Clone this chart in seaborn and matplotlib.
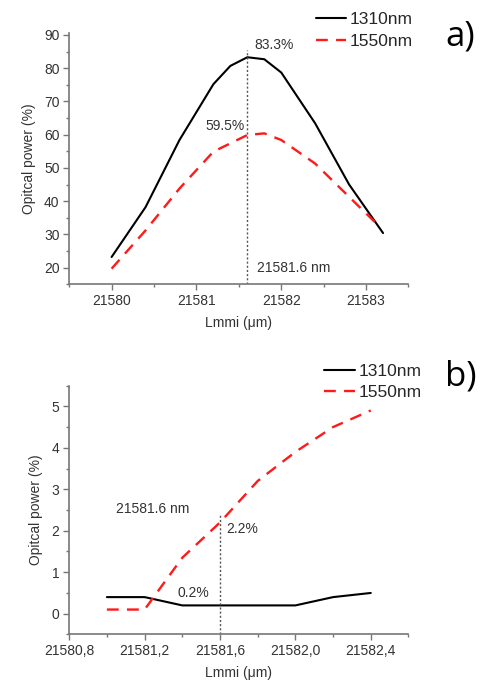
import matplotlib
matplotlib.use("Agg")
import matplotlib.pyplot as plt
import seaborn as sns
import pandas as pd
from matplotlib.ticker import FixedLocator, MultipleLocator, FuncFormatter

# ---- data: panel a ----
a_x_1310 = [21580.0, 21580.4, 21580.8, 21581.2, 21581.4, 21581.6, 21581.8, 21582.0, 21582.4, 21582.8, 21583.2]
a_y_1310 = [23.2, 38.2, 58.4, 75.2, 80.7, 83.3, 82.7, 78.7, 63.4, 45.0, 30.4]
a_x_1550 = [21580.0, 21580.4, 21580.8, 21581.2, 21581.6, 21581.8, 21582.0, 21582.4, 21582.8, 21583.1]
a_y_1550 = [19.7, 31.2, 43.8, 54.9, 59.9, 60.4, 58.4, 51.3, 41.3, 33.8]
a_xticks = [21580, 21581, 21582, 21583]
a_yticks = [20, 30, 40, 50, 60, 70, 80, 90]

# ---- data: panel b ----
b_x = [21581.0, 21581.2, 21581.4, 21581.6, 21581.8, 21582.0, 21582.2, 21582.4]
b_y_1310 = [0.4, 0.4, 0.2, 0.2, 0.2, 0.2, 0.4, 0.5]
b_y_1550 = [0.1, 0.1, 1.35, 2.2, 3.2, 3.9, 4.5, 4.9]
b_xticks = [21580.8, 21581.2, 21581.6, 21582.0, 21582.4]
b_yticks = [0, 1, 2, 3, 4, 5]

series_names = ["1310nm", "1550nm"]
marker_x = 21581.6
labels_a = ["83.3%", "59.5%", "21581.6 nm"]
labels_b = ["21581.6 nm", "2.2%", "0.2%"]

sns.set_theme(style="white")
plt.rcParams['font.family'] = ['Liberation Sans', 'DejaVu Sans']
plt.rcParams['axes.unicode_minus'] = False

fig = plt.figure(figsize=(4.84, 6.8), dpi=100)
ax_a = fig.add_axes([0.143, 0.582, 0.701, 0.369])
ax_b = fig.add_axes([0.143, 0.067, 0.701, 0.366])

dash = (0, (5, 3.5))
spine_col = "#777777"
text_col = "#333333"

def style_axes(ax):
    for s in ["top", "right"]:
        ax.spines[s].set_visible(False)
    for s in ["left", "bottom"]:
        ax.spines[s].set_color(spine_col)
        ax.spines[s].set_linewidth(1.2)
    ax.tick_params(which="major", direction="out", length=4, width=1, color=spine_col,
                   labelsize=10, labelcolor=text_col, left=True, bottom=True, pad=3)
    ax.tick_params(which="minor", direction="out", length=2.5, width=1, color=spine_col,
                   left=True, bottom=True)
    ax.set_xlabel("Lmmi (\u03bcm)", fontsize=10, color=text_col, labelpad=6)
    ax.set_ylabel("Opitcal power (%)", fontsize=10, color=text_col, labelpad=6)
    ax.grid(False)

# panel a
df_a1 = pd.DataFrame({"x": a_x_1310, "y": a_y_1310})
df_a2 = pd.DataFrame({"x": a_x_1550, "y": a_y_1550})
sns.lineplot(data=df_a1, x="x", y="y", ax=ax_a, color="black", lw=1.5, label=series_names[0])
sns.lineplot(data=df_a2, x="x", y="y", ax=ax_a, color="#ff1a1a", lw=1.7, label=series_names[1])
ax_a.lines[1].set_linestyle(dash)
ax_a.set_xlim(21579.5, 21583.5)
ax_a.set_ylim(15, 90.5)
ax_a.xaxis.set_major_locator(FixedLocator(a_xticks))
ax_a.xaxis.set_minor_locator(MultipleLocator(0.5))
ax_a.yaxis.set_major_locator(FixedLocator(a_yticks))
ax_a.yaxis.set_minor_locator(MultipleLocator(5))
ax_a.xaxis.set_major_formatter(FuncFormatter(lambda v, p: f"{v:.0f}"))
ax_a.axvline(marker_x, ymin=0, ymax=(85.5 - 15) / 75.5, color="#555555", lw=1, ls=(0, (1.5, 1.5)))
ax_a.text(21581.68, 87, labels_a[0], fontsize=10, color=text_col, ha="left", va="center")
ax_a.text(21581.57, 62.6, labels_a[1], fontsize=10, color=text_col, ha="right", va="center")
ax_a.text(21581.71, 20, labels_a[2], fontsize=10, color=text_col, ha="left", va="center")
style_axes(ax_a)
ax_a.legend(loc="upper left", bbox_to_anchor=(0.645, 0.987), bbox_transform=fig.transFigure,
            frameon=False, fontsize=12.5, handlelength=1.75, handletextpad=0.2,
            labelspacing=0.35, borderaxespad=0.0, borderpad=0.2)
fig.text(0.92, 0.947, "a)", fontsize=25, family=["Open Sans", "DejaVu Sans"], color="black",
         ha="left", va="center")

# panel b
df_b1 = pd.DataFrame({"x": b_x, "y": b_y_1310})
df_b2 = pd.DataFrame({"x": b_x, "y": b_y_1550})
sns.lineplot(data=df_b1, x="x", y="y", ax=ax_b, color="black", lw=1.5, label=series_names[0])
sns.lineplot(data=df_b2, x="x", y="y", ax=ax_b, color="#ff1a1a", lw=1.7, label=series_names[1])
ax_b.lines[1].set_linestyle(dash)
ax_b.set_xlim(21580.8, 21582.6)
ax_b.set_ylim(-0.5, 5.5)
ax_b.xaxis.set_major_locator(FixedLocator(b_xticks))
ax_b.xaxis.set_minor_locator(MultipleLocator(0.2))
ax_b.yaxis.set_major_locator(FixedLocator(b_yticks))
ax_b.yaxis.set_minor_locator(MultipleLocator(0.5))
ax_b.xaxis.set_major_formatter(FuncFormatter(lambda v, p: f"{v:.1f}".replace(".", ",")))
ax_b.axvline(marker_x, ymin=0, ymax=(2.41 + 0.5) / 6.0, color="#555555", lw=1, ls=(0, (1.5, 1.5)))
ax_b.text(21581.05, 2.53, labels_b[0], fontsize=10, color=text_col, ha="left", va="center")
ax_b.text(21581.635, 2.03, labels_b[1], fontsize=10, color=text_col, ha="left", va="center")
ax_b.text(21581.46, 0.5, labels_b[2], fontsize=10, color=text_col, ha="center", va="center")
style_axes(ax_b)
ax_b.legend(loc="upper left", bbox_to_anchor=(0.663, 0.470), bbox_transform=fig.transFigure,
            frameon=False, fontsize=12.5, handlelength=1.75, handletextpad=0.2,
            labelspacing=0.35, borderaxespad=0.0, borderpad=0.2)
fig.text(0.92, 0.446, "b)", fontsize=25, family=["Open Sans", "DejaVu Sans"], color="black",
         ha="left", va="center")

fig.savefig("out.png", dpi=100)
